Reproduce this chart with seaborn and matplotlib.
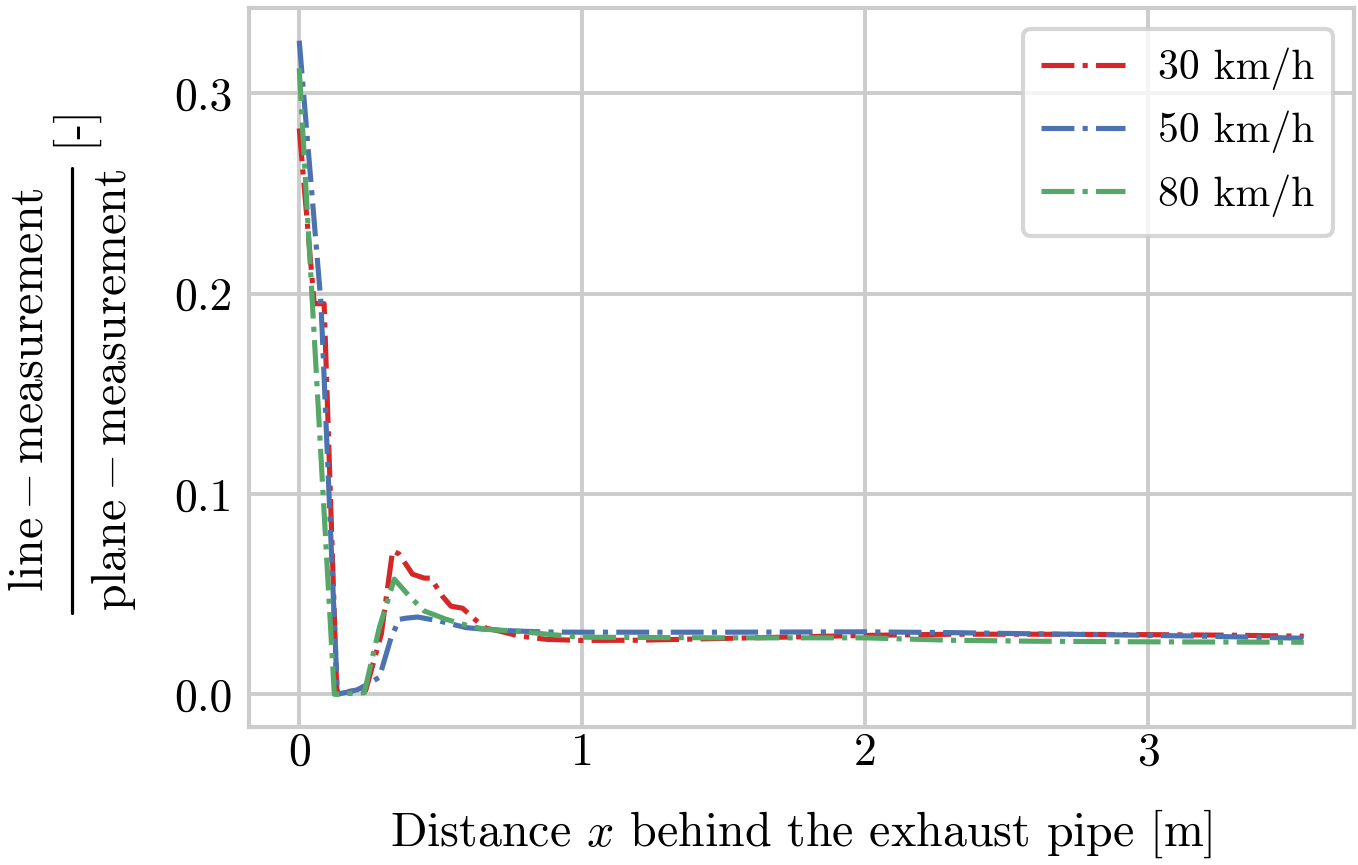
import matplotlib
matplotlib.use("Agg")
import matplotlib.pyplot as plt
import matplotlib.lines as mlines
import seaborn as sns
import pandas as pd

# ---- data ----
labels = ["30 km/h", "50 km/h", "80 km/h"]
colors = ["#d62728", "#4c72b0", "#55a868"]

x_30 = [0, 0.053, 0.088, 0.133, 0.18, 0.235, 0.29, 0.33, 0.353, 0.40, 0.442, 0.465,
        0.506, 0.536, 0.577, 0.624, 0.66, 0.707, 0.777, 0.877, 1.0, 1.2, 1.5, 2.0,
        2.3, 2.6, 3.0, 3.3, 3.55]
y_30 = [0.2825, 0.195, 0.195, 0.001, 0.0015, 0.002, 0.030, 0.0717, 0.070, 0.060,
        0.058, 0.058, 0.049, 0.044, 0.043, 0.037, 0.033, 0.0316, 0.0291, 0.0274,
        0.0269, 0.027, 0.0279, 0.0294, 0.030, 0.030, 0.0298, 0.0295, 0.029]

x_50 = [0, 0.077, 0.135, 0.206, 0.241, 0.283, 0.30, 0.324, 0.353, 0.377, 0.418,
        0.495, 0.589, 0.66, 0.766, 0.877, 1.0, 1.5, 2.0, 2.3, 2.6, 2.93, 3.2, 3.55]
y_50 = [0.3263, 0.195, 0.0, 0.0023, 0.005, 0.0085, 0.0165, 0.028, 0.0374, 0.038,
        0.0386, 0.0366, 0.0333, 0.0324, 0.0316, 0.0311, 0.031, 0.031, 0.0312, 0.0308,
        0.0302, 0.0296, 0.029, 0.028]

x_80 = [0, 0.047, 0.124, 0.23, 0.283, 0.336, 0.389, 0.442, 0.518, 0.60, 0.66,
        0.766, 0.877, 1.0, 1.5, 2.0, 2.3, 2.6, 3.0, 3.55]
y_80 = [0.3126, 0.194, 0.0, 0.0008, 0.0333, 0.0575, 0.049, 0.0416, 0.0375, 0.0341,
        0.0324, 0.0316, 0.030, 0.0285, 0.0282, 0.0282, 0.027, 0.0265, 0.0262, 0.026]

xs = [x_30, x_50, x_80]
ys = [y_30, y_50, y_80]

x_ticks = [0, 1, 2, 3]
y_ticks = [0.0, 0.1, 0.2, 0.3]
x_ticklabels = ["0", "1", "2", "3"]
y_ticklabels = ["0.0", "0.1", "0.2", "0.3"]

frames = []
for lab, xv, yv in zip(labels, xs, ys):
    frames.append(pd.DataFrame({"x": xv, "y": yv, "speed": lab}))
df = pd.concat(frames, ignore_index=True)

# ---- style ----
sns.set_theme(style="whitegrid")
plt.rcParams.update({
    "font.family": ["cmr10", "DejaVu Serif"],
    "mathtext.fontset": "cm",
    "axes.formatter.use_mathtext": True,
    "axes.edgecolor": "#cccccc",
    "axes.linewidth": 3.0,
    "grid.color": "#cccccc",
    "grid.linewidth": 2.8,
    "axes.unicode_minus": False,
    "text.color": "black",
    "axes.labelcolor": "black",
    "xtick.color": "black",
    "ytick.color": "black",
})

W, H = 1358, 865
fig = plt.figure(figsize=(W / 100, H / 100), dpi=100)
ax = fig.add_axes([249 / W, 1 - 727 / H, (1354 - 249) / W, (727 - 8) / H])

sns.lineplot(data=df, x="x", y="y", hue="speed", palette=colors,
             hue_order=labels, sort=False, estimator=None,
             linestyle="-.", linewidth=3.7, ax=ax)
for line in ax.get_lines():
    line.set_linestyle("-.")

ax.set_xticks(x_ticks)
ax.set_yticks(y_ticks)
ax.set_xticklabels(x_ticklabels)
ax.set_yticklabels(y_ticklabels)
ax.tick_params(axis="x", labelsize=33, pad=4, length=0)
ax.tick_params(axis="y", labelsize=33, pad=12, length=0)

ax.set_xlabel(r"Distance $x$ behind the exhaust pipe [m]", fontsize=34.5, labelpad=24)
ax.set_ylabel("")

# y label: display-style fraction followed by [-], rotated
fs = 34.5
yc = 390
fig.text(53 / W, 1 - yc / H, r"$\mathrm{line} - \mathrm{measurement}$",
         rotation=90, ha="right", va="center", fontsize=fs)
fig.text(89 / W, 1 - yc / H, r"$\mathrm{plane} - \mathrm{measurement}$",
         rotation=90, ha="left", va="center", fontsize=fs)
fig.add_artist(mlines.Line2D([72 / W, 72 / W], [1 - 168 / H, 1 - 613 / H],
                             color="black", linewidth=2.3,
                             transform=fig.transFigure))
fig.text(72 / W, 1 - 125 / H, "[-]", rotation=90, ha="center", va="center",
         fontsize=fs)

leg = ax.legend(loc="upper right", fontsize=30, frameon=True, fancybox=True,
                framealpha=0.8, edgecolor="#cccccc", borderpad=0.45,
                handlelength=2.0, labelspacing=0.5)
leg.get_frame().set_linewidth(3.0)
for h in leg.get_lines():
    h.set_linestyle("-.")
    h.set_linewidth(3.7)

fig.savefig("out.png", dpi=100)
